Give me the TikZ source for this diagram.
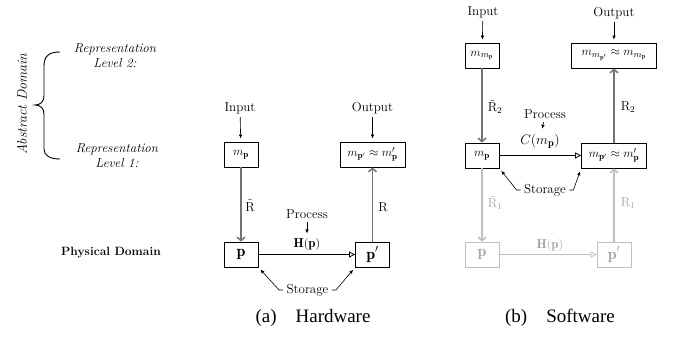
\documentclass[tikz,border=0pt]{standalone}
\usepackage{fontspec}
\usetikzlibrary{arrows.meta}
\newfontfamily\capfont{Liberation Serif}
\begin{document}
\begin{tikzpicture}[x=1pt,y=-1pt,font=\fontsize{13}{15}\selectfont,
  box/.style={draw,line width=0.8pt,minimum height=25pt,inner sep=2pt},
  pbox/.style={box,minimum width=34pt,font=\fontsize{16}{18}\selectfont},
  smallarr/.style={line width=0.6pt,-{Latex[length=4pt,width=3.5pt]}},
  grayarr/.style={draw=black!55,line width=1.5pt,-{Straight Barb[length=3.5pt,width=8pt]}},
  lightarr/.style={draw=black!25,line width=1.5pt,-{Straight Barb[length=3.5pt,width=8pt]}},
  procarr/.style={line width=0.8pt,-{Triangle[open,length=6pt,width=6pt]}},
  lightbox/.style={pbox,draw=black!25,text=black!35},
  caption/.style={font=\capfont\fontsize{19}{21}\selectfont}]
\path[use as bounding box] (0,0) rectangle (677,337);

% left labels
\node[rotate=90,font=\fontsize{14}{16}\selectfont\itshape] (absdom) at (22,104) {Abstract Domain};
\draw[line width=0.9pt] (60,52) .. controls (49,52) and (44,56) .. (44,66) -- (44,96)
  .. controls (44,102) and (40,105) .. (35,105) .. controls (40,105) and (44,108) .. (44,114)
  -- (44,149) .. controls (44,155) and (49,159) .. (60,159);
\node[align=center,font=\fontsize{13}{15}\selectfont\itshape] (rep2) at (115,56) {Representation\\Level 2:};
\node[align=center,font=\fontsize{13}{15}\selectfont\itshape] (rep1) at (117,156) {Representation\\Level 1:};
\node[font=\fontsize{12}{14}\selectfont\bfseries] (phys) at (111,253) {Physical Domain};

% hardware
\node (hin) at (240,108) {Input};
\node[box,minimum width=34pt] (hmp) at (241,154.5) {$m_{\mathbf p}$};
\node (hout) at (372.5,108) {Output};
\node[box,minimum width=65pt] (houtbox) at (372.5,154.5) {$m_{\mathbf p'}\approx m'_{\mathbf p}$};
\node[pbox] (hp) at (241,254.5) {$\mathbf p$};
\node[pbox] (hpp) at (372.5,254.5) {$\mathbf p'$};
\node (hproc) at (307,214) {Process};
\node (hH) at (307,244) {$\mathbf H(\mathbf p)$};
\node (hst) at (307.5,290) {Storage};
\node (hRt) at (250,206) {$\tilde{\mathrm R}$};
\node (hR) at (383,207) {$\mathrm R$};
\draw[smallarr,shorten >=3pt] (hin) -- (hmp);
\draw[smallarr,shorten >=3pt] (hout) -- (houtbox);
\draw[smallarr,shorten >=1pt] (hproc) -- (hH);
\draw[grayarr] (hmp) -- (hp);
\draw[grayarr] (hpp) -- (houtbox);
\draw[procarr] (hp) -- (hpp);
\draw[smallarr,shorten >=3pt] (hst.west) -- ++(-4,0) -- (hp.south east);
\draw[smallarr,shorten >=3pt] (hst.east) -- ++(4,0) -- (hpp.south west);

% software
\node (sin) at (483,12) {Input};
\node[box,minimum width=34pt] (smm) at (482,55.5) {$m_{m_{\mathbf p}}$};
\node (sout) at (614,13) {Output};
\node[box,minimum width=85pt] (soutbox) at (614,55.5) {$m_{m_{\mathbf p'}}\approx m_{m_{\mathbf p}}$};
\node[box,minimum width=34pt] (smp) at (482,155.5) {$m_{\mathbf p}$};
\node[box,minimum width=65pt] (smpp) at (614,155.5) {$m_{\mathbf p'}\approx m'_{\mathbf p}$};
\node (sproc) at (545,114) {Process};
\node[scale=1.15] (sC) at (540,141) {$C(m_{\mathbf p})$};
\node (sst) at (545,190) {Storage};
\node (sRt2) at (495,107) {$\tilde{\mathrm R}_2$};
\node (sR2) at (628,107) {$\mathrm R_2$};
\node[text=black!35] (sRt1) at (495,203) {$\tilde{\mathrm R}_1$};
\node[text=black!35] (sR1) at (628,203) {$\mathrm R_1$};
\node[lightbox] (sp) at (482,254.5) {$\mathbf p$};
\node[lightbox] (spp) at (614,254.5) {$\mathbf p'$};
\node[text=black!35] (sH) at (550,245) {$\mathbf H(\mathbf p)$};
\draw[smallarr,shorten >=3pt] (sin) -- (smm);
\draw[smallarr,shorten >=3pt] (sout) -- (soutbox);
\draw[smallarr,shorten >=1pt] (sproc) -- (sC);
\draw[grayarr] (smm) -- (smp);
\draw[grayarr] (smpp) -- (soutbox);
\draw[procarr] (smp) -- (smpp);
\draw[lightarr] (smp) -- (sp);
\draw[lightarr] (spp) -- (smpp);
\draw[procarr,draw=black!25] (sp) -- (spp);
\draw[smallarr,shorten >=3pt] (sst.west) -- ++(-4,0) -- (smp.south east);
\draw[smallarr,shorten >=3pt] (sst.east) -- ++(4,0) -- (smpp.south west);

% captions
\node[caption] (capa) at (313,318) {(a)\quad Hardware};
\node[caption] (capb) at (560,318) {(b)\quad Software};
\end{tikzpicture}
\end{document}
